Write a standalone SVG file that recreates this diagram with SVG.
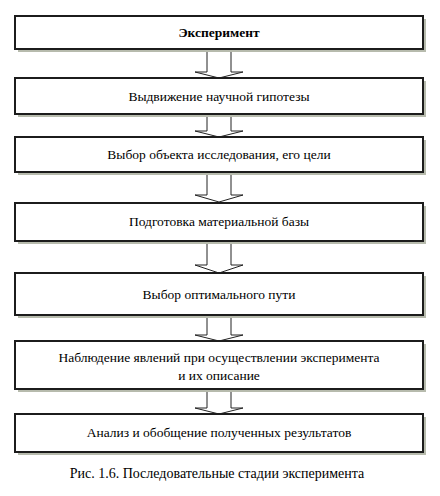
<svg xmlns="http://www.w3.org/2000/svg" width="440" height="496" viewBox="0 0 440 496">
<style>
.sh{fill:#b7bbad;stroke:none}
.bx{fill:#fff;stroke:#1c1c1c;stroke-width:2}
.t{font-family:"Liberation Serif","Times New Roman",serif;font-size:13.5px;fill:#000;text-anchor:middle}
.b{font-weight:bold}
.ar{fill:#fff;stroke:#222;stroke-width:1}
</style>
<rect width="440" height="496" fill="#fff"/>
<g id="connectors">
<path class="ar" d="M207,50 V72 H195 L219,78 L243,72 H231 V50"/>
<path class="ar" d="M207,116 V131 H195 L219,137 L243,131 H231 V116"/>
<path class="ar" d="M207,174 V195 H195 L219,202 L243,195 H231 V174"/>
<path class="ar" d="M207,243 V265 H195 L219,273 L243,265 H231 V243"/>
<path class="ar" d="M207,317 V335 H195 L219,341 L243,335 H231 V317"/>
<path class="ar" d="M207,391 V408 H195 L219,414 L243,408 H231 V391"/>
</g>
<g id="n1"><rect class="sh" x="18" y="19" width="408" height="33"/><rect class="bx" x="15" y="16" width="408" height="33"/><text class="t b" x="219" y="37">Эксперимент</text></g>
<g id="n2"><rect class="sh" x="18" y="81" width="408" height="36"/><rect class="bx" x="15" y="78" width="408" height="36"/><text class="t" x="219" y="101">Выдвижение научной гипотезы</text></g>
<g id="n3"><rect class="sh" x="18" y="140" width="408" height="35"/><rect class="bx" x="15" y="137" width="408" height="35"/><text class="t" x="219" y="159">Выбор объекта исследования, его цели</text></g>
<g id="n4"><rect class="sh" x="18" y="206" width="408" height="38"/><rect class="bx" x="15" y="203" width="408" height="38"/><text class="t" x="219" y="226">Подготовка материальной базы</text></g>
<g id="n5"><rect class="sh" x="18" y="276" width="408" height="42"/><rect class="bx" x="15" y="273" width="408" height="42"/><text class="t" x="219" y="299">Выбор оптимального пути</text></g>
<g id="n6"><rect class="sh" x="18" y="344" width="408" height="48"/><rect class="bx" x="15" y="341" width="408" height="48"/><text class="t" x="219" y="362">Наблюдение явлений при осуществлении эксперимента</text><text class="t" x="219" y="380">и их описание</text></g>
<g id="n7"><rect class="sh" x="18" y="417" width="408" height="38"/><rect class="bx" x="15" y="414" width="408" height="38"/><text class="t" x="219" y="437">Анализ и обобщение полученных результатов</text></g>
<text class="t" x="217" y="478" style="font-size:14px">Рис. 1.6. Последовательные стадии эксперимента</text>
</svg>
